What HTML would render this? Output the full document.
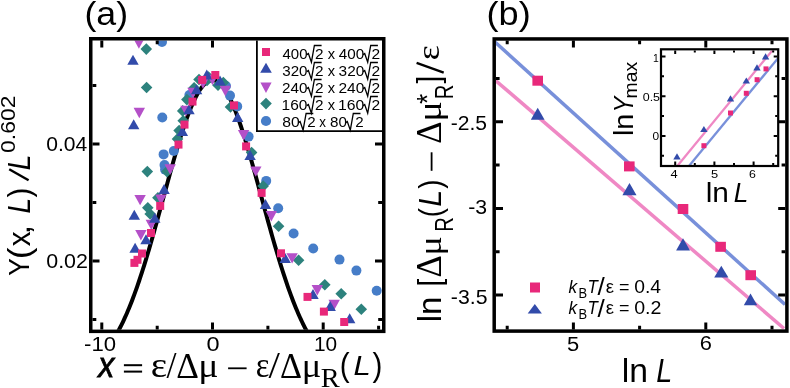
<!DOCTYPE html><html><head><meta charset="utf-8"><style>html,body{margin:0;padding:0;background:#fff;overflow:hidden;}svg{display:block;font-kerning:none;will-change:transform;}</style></head><body>
<svg width="790" height="388" viewBox="0 0 790 388">
<rect width="790" height="388" fill="#fff"/>
<defs><clipPath id="ca"><rect x="92.5" y="40.5" width="289.5" height="289.2"/></clipPath><clipPath id="cb"><rect x="496" y="40.6" width="289.2" height="288.6"/></clipPath><clipPath id="ci"><rect x="662" y="50.4" width="115.3" height="114.8"/></clipPath></defs>
<g clip-path="url(#ca)"><polyline points="100.0,356.61 101.0,355.59 102.0,354.53 103.0,353.43 104.0,352.29 105.0,351.11 106.0,349.88 107.0,348.61 108.0,347.30 109.0,345.94 110.0,344.54 111.0,343.09 112.0,341.59 113.0,340.04 114.0,338.45 115.0,336.80 116.0,335.10 117.0,333.36 118.0,331.55 119.0,329.70 120.0,327.80 121.0,325.84 122.0,323.82 123.0,321.76 124.0,319.63 125.0,317.46 126.0,315.22 127.0,312.94 128.0,310.59 129.0,308.20 130.0,305.74 131.0,303.24 132.0,300.67 133.0,298.05 134.0,295.38 135.0,292.66 136.0,289.88 137.0,287.05 138.0,284.16 139.0,281.23 140.0,278.24 141.0,275.21 142.0,272.13 143.0,269.00 144.0,265.82 145.0,262.60 146.0,259.34 147.0,256.03 148.0,252.69 149.0,249.31 150.0,245.89 151.0,242.44 152.0,238.95 153.0,235.44 154.0,231.89 155.0,228.32 156.0,224.73 157.0,221.12 158.0,217.48 159.0,213.84 160.0,210.18 161.0,206.50 162.0,202.83 163.0,199.14 164.0,195.46 165.0,191.77 166.0,188.10 167.0,184.43 168.0,180.77 169.0,177.12 170.0,173.50 171.0,169.89 172.0,166.31 173.0,162.76 174.0,159.23 175.0,155.75 176.0,152.30 177.0,148.89 178.0,145.53 179.0,142.22 180.0,138.96 181.0,135.75 182.0,132.61 183.0,129.52 184.0,126.51 185.0,123.56 186.0,120.68 187.0,117.89 188.0,115.17 189.0,112.53 190.0,109.97 191.0,107.51 192.0,105.13 193.0,102.85 194.0,100.67 195.0,98.58 196.0,96.60 197.0,94.72 198.0,92.95 199.0,91.28 200.0,89.73 201.0,88.28 202.0,86.95 203.0,85.74 204.0,84.64 205.0,83.67 206.0,82.81 207.0,82.07 208.0,81.45 209.0,80.96 210.0,80.59 211.0,80.34 212.0,80.22 213.0,80.22 214.0,80.34 215.0,80.59 216.0,80.96 217.0,81.45 218.0,82.07 219.0,82.81 220.0,83.67 221.0,84.64 222.0,85.74 223.0,86.95 224.0,88.28 225.0,89.73 226.0,91.28 227.0,92.95 228.0,94.72 229.0,96.60 230.0,98.58 231.0,100.67 232.0,102.85 233.0,105.13 234.0,107.51 235.0,109.97 236.0,112.53 237.0,115.17 238.0,117.89 239.0,120.68 240.0,123.56 241.0,126.51 242.0,129.52 243.0,132.61 244.0,135.75 245.0,138.96 246.0,142.22 247.0,145.53 248.0,148.89 249.0,152.30 250.0,155.75 251.0,159.23 252.0,162.76 253.0,166.31 254.0,169.89 255.0,173.50 256.0,177.12 257.0,180.77 258.0,184.43 259.0,188.10 260.0,191.77 261.0,195.46 262.0,199.14 263.0,202.83 264.0,206.50 265.0,210.18 266.0,213.84 267.0,217.48 268.0,221.12 269.0,224.73 270.0,228.32 271.0,231.89 272.0,235.44 273.0,238.95 274.0,242.44 275.0,245.89 276.0,249.31 277.0,252.69 278.0,256.03 279.0,259.34 280.0,262.60 281.0,265.82 282.0,269.00 283.0,272.13 284.0,275.21 285.0,278.24 286.0,281.23 287.0,284.16 288.0,287.05 289.0,289.88 290.0,292.66 291.0,295.38 292.0,298.05 293.0,300.67 294.0,303.24 295.0,305.74 296.0,308.20 297.0,310.59 298.0,312.94 299.0,315.22 300.0,317.46 301.0,319.63 302.0,321.76 303.0,323.82 304.0,325.84 305.0,327.80 306.0,329.70 307.0,331.55 308.0,333.36 309.0,335.10 310.0,336.80 311.0,338.45 312.0,340.04 313.0,341.59 314.0,343.09 315.0,344.54 316.0,345.94 317.0,347.30 318.0,348.61 319.0,349.88 320.0,351.11 321.0,352.29 322.0,353.43 323.0,354.53 324.0,355.59 325.0,356.61 326.0,357.59 327.0,358.54 328.0,359.45 329.0,360.32 330.0,361.16" fill="none" stroke="#000" stroke-width="4"/>
<circle cx="162.0" cy="42.0" r="5.0" fill="#467DC8"/>
<circle cx="162.3" cy="117.5" r="5.0" fill="#467DC8"/>
<circle cx="163.6" cy="154.4" r="5.0" fill="#467DC8"/>
<circle cx="173.8" cy="151.0" r="5.0" fill="#467DC8"/>
<circle cx="164.5" cy="165.1" r="5.0" fill="#467DC8"/>
<circle cx="165.1" cy="169.6" r="5.0" fill="#467DC8"/>
<circle cx="189.4" cy="95.0" r="5.0" fill="#467DC8"/>
<circle cx="226.0" cy="86.0" r="5.0" fill="#467DC8"/>
<circle cx="230.0" cy="95.6" r="5.0" fill="#467DC8"/>
<circle cx="237.2" cy="106.4" r="5.0" fill="#467DC8"/>
<circle cx="248.6" cy="136.6" r="5.0" fill="#467DC8"/>
<circle cx="266.2" cy="180.9" r="5.0" fill="#467DC8"/>
<circle cx="278.2" cy="208.2" r="5.0" fill="#467DC8"/>
<circle cx="293.6" cy="233.5" r="5.0" fill="#467DC8"/>
<circle cx="313.2" cy="248.5" r="5.0" fill="#467DC8"/>
<circle cx="339.5" cy="259.6" r="5.0" fill="#467DC8"/>
<circle cx="356.4" cy="270.6" r="5.0" fill="#467DC8"/>
<circle cx="376.7" cy="290.7" r="5.0" fill="#467DC8"/>
<polygon points="146.3,43.3 152.1,49.1 146.3,54.9 140.5,49.1" fill="#2D827D"/>
<polygon points="146.6,81.7 152.4,87.5 146.6,93.3 140.8,87.5" fill="#2D827D"/>
<polygon points="147.3,165.8 153.1,171.6 147.3,177.4 141.5,171.6" fill="#2D827D"/>
<polygon points="167.0,165.8 172.8,171.6 167.0,177.4 161.2,171.6" fill="#2D827D"/>
<polygon points="157.9,192.0 163.7,197.8 157.9,203.6 152.1,197.8" fill="#2D827D"/>
<polygon points="147.8,202.0 153.6,207.8 147.8,213.6 142.0,207.8" fill="#2D827D"/>
<polygon points="150.2,208.2 156.0,214.0 150.2,219.8 144.4,214.0" fill="#2D827D"/>
<polygon points="177.5,133.1 183.3,138.9 177.5,144.7 171.7,138.9" fill="#2D827D"/>
<polygon points="179.1,124.8 184.9,130.6 179.1,136.4 173.3,130.6" fill="#2D827D"/>
<polygon points="183.2,115.0 189.0,120.8 183.2,126.6 177.4,120.8" fill="#2D827D"/>
<polygon points="182.7,105.1 188.5,110.9 182.7,116.7 176.9,110.9" fill="#2D827D"/>
<polygon points="186.9,93.8 192.7,99.6 186.9,105.4 181.1,99.6" fill="#2D827D"/>
<polygon points="194.1,81.9 199.9,87.7 194.1,93.5 188.3,87.7" fill="#2D827D"/>
<polygon points="199.0,73.7 204.8,79.5 199.0,85.3 193.2,79.5" fill="#2D827D"/>
<polygon points="208.5,71.2 214.3,77.0 208.5,82.8 202.7,77.0" fill="#2D827D"/>
<polygon points="207.0,74.7 212.8,80.5 207.0,86.3 201.2,80.5" fill="#2D827D"/>
<polygon points="218.0,79.4 223.8,85.2 218.0,91.0 212.2,85.2" fill="#2D827D"/>
<polygon points="223.3,76.8 229.1,82.6 223.3,88.4 217.5,82.6" fill="#2D827D"/>
<polygon points="230.5,101.2 236.3,107.0 230.5,112.8 224.7,107.0" fill="#2D827D"/>
<polygon points="251.6,146.7 257.4,152.5 251.6,158.3 245.8,152.5" fill="#2D827D"/>
<polygon points="263.2,180.2 269.0,186.0 263.2,191.8 257.4,186.0" fill="#2D827D"/>
<polygon points="278.6,220.4 284.4,226.2 278.6,232.0 272.8,226.2" fill="#2D827D"/>
<polygon points="298.6,254.4 304.4,260.2 298.6,266.0 292.8,260.2" fill="#2D827D"/>
<polygon points="324.8,279.0 330.6,284.8 324.8,290.6 319.0,284.8" fill="#2D827D"/>
<polygon points="341.2,288.0 347.0,293.8 341.2,299.6 335.4,293.8" fill="#2D827D"/>
<polygon points="361.3,303.5 367.1,309.3 361.3,315.1 355.5,309.3" fill="#2D827D"/>
<polygon points="133.2,38.3 144.6,38.3 138.9,48.7" fill="#B450C8"/>
<polygon points="133.6,107.8 145.0,107.8 139.3,118.2" fill="#B450C8"/>
<polygon points="134.4,194.9 145.8,194.9 140.1,205.3" fill="#B450C8"/>
<polygon points="155.3,194.5 166.7,194.5 161.0,204.9" fill="#B450C8"/>
<polygon points="145.6,219.7 157.0,219.7 151.3,230.1" fill="#B450C8"/>
<polygon points="135.2,230.1 146.6,230.1 140.9,240.5" fill="#B450C8"/>
<polygon points="164.5,164.3 175.9,164.3 170.2,174.7" fill="#B450C8"/>
<polygon points="187.3,87.8 198.7,87.8 193.0,98.2" fill="#B450C8"/>
<polygon points="180.3,105.8 191.7,105.8 186.0,116.2" fill="#B450C8"/>
<polygon points="206.8,74.8 218.2,74.8 212.5,85.2" fill="#B450C8"/>
<polygon points="197.3,78.3 208.7,78.3 203.0,88.7" fill="#B450C8"/>
<polygon points="219.6,85.8 231.0,85.8 225.3,96.2" fill="#B450C8"/>
<polygon points="237.9,130.0 249.3,130.0 243.6,140.4" fill="#B450C8"/>
<polygon points="250.1,166.4 261.5,166.4 255.8,176.8" fill="#B450C8"/>
<polygon points="265.6,211.0 277.0,211.0 271.3,221.4" fill="#B450C8"/>
<polygon points="286.4,253.2 297.8,253.2 292.1,263.6" fill="#B450C8"/>
<polygon points="311.6,285.0 323.0,285.0 317.3,295.4" fill="#B450C8"/>
<polygon points="328.5,299.7 339.9,299.7 334.2,310.1" fill="#B450C8"/>
<polygon points="206.8,69.6 212.5,79.6 201.1,79.6" fill="#324BAA"/>
<polygon points="220.0,75.5 225.7,85.5 214.3,85.5" fill="#324BAA"/>
<polygon points="196.6,84.3 202.3,94.3 190.9,94.3" fill="#324BAA"/>
<polygon points="189.0,104.3 194.7,114.3 183.3,114.3" fill="#324BAA"/>
<polygon points="182.4,126.0 188.1,136.0 176.7,136.0" fill="#324BAA"/>
<polygon points="164.1,183.9 169.8,193.9 158.4,193.9" fill="#324BAA"/>
<polygon points="134.3,209.8 140.0,219.8 128.6,219.8" fill="#324BAA"/>
<polygon points="154.8,212.8 160.5,222.8 149.1,222.8" fill="#324BAA"/>
<polygon points="146.0,234.3 151.7,244.3 140.3,244.3" fill="#324BAA"/>
<polygon points="135.1,242.8 140.8,252.8 129.4,252.8" fill="#324BAA"/>
<polygon points="133.0,54.7 138.7,64.7 127.3,64.7" fill="#324BAA"/>
<polygon points="133.7,119.2 139.4,129.2 128.0,129.2" fill="#324BAA"/>
<polygon points="237.7,112.0 243.4,122.0 232.0,122.0" fill="#324BAA"/>
<polygon points="250.1,149.9 255.8,159.9 244.4,159.9" fill="#324BAA"/>
<polygon points="265.5,199.0 271.2,209.0 259.8,209.0" fill="#324BAA"/>
<polygon points="285.2,253.0 290.9,263.0 279.5,263.0" fill="#324BAA"/>
<polygon points="313.0,288.9 318.7,298.9 307.3,298.9" fill="#324BAA"/>
<polygon points="330.2,301.0 335.9,311.0 324.5,311.0" fill="#324BAA"/>
<polygon points="349.7,313.3 355.4,323.3 344.0,323.3" fill="#324BAA"/>
<rect x="211.3" y="71.0" width="8" height="8" fill="#E8287A"/>
<rect x="198.2" y="75.9" width="8" height="8" fill="#E8287A"/>
<rect x="188.5" y="97.6" width="8" height="8" fill="#E8287A"/>
<rect x="180.5" y="120.6" width="8" height="8" fill="#E8287A"/>
<rect x="174.5" y="140.6" width="8" height="8" fill="#E8287A"/>
<rect x="156.2" y="201.9" width="8" height="8" fill="#E8287A"/>
<rect x="147.0" y="229.0" width="8" height="8" fill="#E8287A"/>
<rect x="138.0" y="249.5" width="8" height="8" fill="#E8287A"/>
<rect x="133.5" y="255.8" width="8" height="8" fill="#E8287A"/>
<rect x="130.4" y="258.9" width="8" height="8" fill="#E8287A"/>
<rect x="230.0" y="101.4" width="8" height="8" fill="#E8287A"/>
<rect x="242.1" y="142.4" width="8" height="8" fill="#E8287A"/>
<rect x="257.6" y="188.9" width="8" height="8" fill="#E8287A"/>
<rect x="277.0" y="249.3" width="8" height="8" fill="#E8287A"/>
<rect x="303.5" y="292.9" width="8" height="8" fill="#E8287A"/>
<rect x="319.9" y="307.6" width="8" height="8" fill="#E8287A"/>
<rect x="340.2" y="318.0" width="8" height="8" fill="#E8287A"/>
</g>
<path d="M101.8,329.6 v-7 M101.8,40.5 v7 M157.2,329.6 v-3.8 M157.2,40.5 v3.8 M212.5,329.6 v-7 M212.5,40.5 v7 M267.9,329.6 v-3.8 M267.9,40.5 v3.8 M323.2,329.6 v-7 M323.2,40.5 v7 M378.6,329.6 v-3.8 M378.6,40.5 v3.8 M92.5,319.5 h3.8 M382,319.5 h-3.8 M92.5,261.0 h7 M382,261.0 h-7 M92.5,202.5 h3.8 M382,202.5 h-3.8 M92.5,144.0 h7 M382,144.0 h-7 M92.5,85.5 h3.8 M382,85.5 h-3.8" stroke="#000" stroke-width="3" fill="none"/>
<rect x="256.9" y="39" width="127" height="92.2" fill="#fff"/>
<path d="M256.9,40.5 V131.2 H382" fill="none" stroke="#000" stroke-width="1.8"/>
<rect x="90.75" y="38.75" width="293" height="292.6" fill="none" stroke="#000" stroke-width="3.5"/>
<rect x="262.0" y="48.0" width="8" height="8" fill="#E8287A"/>
<polygon points="266.0,62.8 271.8,72.8 260.2,72.8" fill="#324BAA"/>
<polygon points="260.4,82.5 271.6,82.5 266.0,93.0" fill="#B450C8"/>
<polygon points="266.0,97.8 271.8,103.6 266.0,109.4 260.2,103.6" fill="#2D827D"/>
<circle cx="266.0" cy="121.0" r="5.1" fill="#467DC8"/>
<text transform="translate(282.46,58.80) scale(1.0275,1)" font-family="Liberation Sans" font-size="14.6" fill="#000">400</text>
<path d="M306.8,54.6 L308.4,53.6 L311.4,62.2 L314.4,45.5 H321.6" fill="none" stroke="#000" stroke-width="1.3" stroke-linejoin="miter"/>
<text transform="translate(314.93,58.80) scale(1.0524,1)" font-family="Liberation Sans" font-size="14.6" fill="#000">2</text>
<text transform="translate(327.64,58.80) scale(1.0030,1)" font-family="Liberation Sans" font-size="14.6" fill="#000">x</text>
<text transform="translate(338.85,58.80) scale(1.0446,1)" font-family="Liberation Sans" font-size="14.6" fill="#000">400</text>
<path d="M363.1,54.6 L364.7,53.6 L367.7,62.2 L370.7,45.5 H377.9" fill="none" stroke="#000" stroke-width="1.3" stroke-linejoin="miter"/>
<text transform="translate(371.42,58.80) scale(1.0675,1)" font-family="Liberation Sans" font-size="14.6" fill="#000">2</text>
<text transform="translate(282.22,75.80) scale(1.0373,1)" font-family="Liberation Sans" font-size="14.6" fill="#000">320</text>
<path d="M306.8,71.6 L308.4,70.6 L311.4,79.2 L314.4,62.5 H321.6" fill="none" stroke="#000" stroke-width="1.3" stroke-linejoin="miter"/>
<text transform="translate(314.93,75.80) scale(1.0524,1)" font-family="Liberation Sans" font-size="14.6" fill="#000">2</text>
<text transform="translate(327.64,75.80) scale(1.0030,1)" font-family="Liberation Sans" font-size="14.6" fill="#000">x</text>
<text transform="translate(338.61,75.80) scale(1.0545,1)" font-family="Liberation Sans" font-size="14.6" fill="#000">320</text>
<path d="M363.1,71.6 L364.7,70.6 L367.7,79.2 L370.7,62.5 H377.9" fill="none" stroke="#000" stroke-width="1.3" stroke-linejoin="miter"/>
<text transform="translate(371.42,75.80) scale(1.0675,1)" font-family="Liberation Sans" font-size="14.6" fill="#000">2</text>
<text transform="translate(282.03,92.80) scale(1.0453,1)" font-family="Liberation Sans" font-size="14.6" fill="#000">240</text>
<path d="M306.8,88.6 L308.4,87.6 L311.4,96.2 L314.4,79.5 H321.6" fill="none" stroke="#000" stroke-width="1.3" stroke-linejoin="miter"/>
<text transform="translate(314.93,92.80) scale(1.0524,1)" font-family="Liberation Sans" font-size="14.6" fill="#000">2</text>
<text transform="translate(327.64,92.80) scale(1.0030,1)" font-family="Liberation Sans" font-size="14.6" fill="#000">x</text>
<text transform="translate(338.42,92.80) scale(1.0627,1)" font-family="Liberation Sans" font-size="14.6" fill="#000">240</text>
<path d="M363.1,88.6 L364.7,87.6 L367.7,96.2 L370.7,79.5 H377.9" fill="none" stroke="#000" stroke-width="1.3" stroke-linejoin="miter"/>
<text transform="translate(371.42,92.80) scale(1.0675,1)" font-family="Liberation Sans" font-size="14.6" fill="#000">2</text>
<text transform="translate(281.62,109.80) scale(1.0627,1)" font-family="Liberation Sans" font-size="14.6" fill="#000">160</text>
<path d="M306.8,105.6 L308.4,104.6 L311.4,113.2 L314.4,96.5 H321.6" fill="none" stroke="#000" stroke-width="1.3" stroke-linejoin="miter"/>
<text transform="translate(314.93,109.80) scale(1.0524,1)" font-family="Liberation Sans" font-size="14.6" fill="#000">2</text>
<text transform="translate(327.64,109.80) scale(1.0030,1)" font-family="Liberation Sans" font-size="14.6" fill="#000">x</text>
<text transform="translate(338.00,109.80) scale(1.0804,1)" font-family="Liberation Sans" font-size="14.6" fill="#000">160</text>
<path d="M363.1,105.6 L364.7,104.6 L367.7,113.2 L370.7,96.5 H377.9" fill="none" stroke="#000" stroke-width="1.3" stroke-linejoin="miter"/>
<text transform="translate(371.42,109.80) scale(1.0675,1)" font-family="Liberation Sans" font-size="14.6" fill="#000">2</text>
<text transform="translate(282.22,126.80) scale(1.0775,1)" font-family="Liberation Sans" font-size="14.6" fill="#000">80</text>
<path d="M298.5,122.6 L300.1,121.6 L303.1,130.2 L306.1,113.5 H313.3" fill="none" stroke="#000" stroke-width="1.3" stroke-linejoin="miter"/>
<text transform="translate(307.14,126.80) scale(1.0374,1)" font-family="Liberation Sans" font-size="14.6" fill="#000">2</text>
<text transform="translate(319.35,126.80) scale(0.9170,1)" font-family="Liberation Sans" font-size="14.6" fill="#000">x</text>
<text transform="translate(330.04,126.80) scale(1.0376,1)" font-family="Liberation Sans" font-size="14.6" fill="#000">80</text>
<path d="M345.7,122.6 L347.3,121.6 L350.3,130.2 L353.3,113.5 H360.5" fill="none" stroke="#000" stroke-width="1.3" stroke-linejoin="miter"/>
<text transform="translate(355.34,126.80) scale(1.0374,1)" font-family="Liberation Sans" font-size="14.6" fill="#000">2</text>
<text transform="translate(46.28,151.40) scale(1.0041,1)" font-family="Liberation Sans" font-size="21" fill="#000">0.04</text>
<text transform="translate(46.26,267.50) scale(1.0206,1)" font-family="Liberation Sans" font-size="21" fill="#000">0.02</text>
<text transform="translate(84.01,350.60) scale(1.0560,1)" font-family="Liberation Sans" font-size="21" fill="#000">-10</text>
<text transform="translate(206.46,350.60) scale(1.1200,1)" font-family="Liberation Sans" font-size="21" fill="#000">0</text>
<text transform="translate(314.01,350.60) scale(0.9934,1)" font-family="Liberation Sans" font-size="21" fill="#000">10</text>
<text transform="translate(84.49,25.00) scale(1.0499,1)" font-family="Liberation Sans" font-size="34" fill="#000">(a)</text>
<g transform="rotate(-90)">
<text transform="translate(-275.83,28.90) scale(0.8800,1)" font-family="Liberation Sans" font-size="30.09" fill="#000">Y</text>
</g>
<g transform="rotate(-90)">
<text transform="translate(-258.89,29.79) scale(1.1200,1)" font-family="Liberation Sans" font-size="30.48" fill="#000">(</text>
</g>
<g transform="rotate(-90)">
<text transform="translate(-246.33,29.70) scale(0.9689,1)" font-family="Liberation Sans" font-size="30.66" fill="#000">x</text>
</g>
<g transform="rotate(-90)">
<text transform="translate(-234.57,30.28) scale(1.1200,1)" font-family="Liberation Sans" font-size="30.66" fill="#000">,</text>
</g>
<g transform="rotate(-90)">
<text transform="translate(-213.57,29.70) scale(0.9146,1)" font-family="Liberation Sans" font-size="30.96" font-style="italic" fill="#000">L</text>
</g>
<g transform="rotate(-90)">
<text transform="translate(-197.47,29.79) scale(0.9652,1)" font-family="Liberation Sans" font-size="30.48" fill="#000">)</text>
</g>
<line x1="28.6" y1="180.3" x2="9.2" y2="169.3" stroke="#000" stroke-width="2.4"/>
<g transform="rotate(-90)">
<text transform="translate(-170.27,29.70) scale(0.9146,1)" font-family="Liberation Sans" font-size="30.96" font-style="italic" fill="#000">L</text>
</g>
<g transform="rotate(-90)">
<text transform="translate(-152.92,15.30) scale(1.1200,1)" font-family="Liberation Sans" font-size="20.48" fill="#000">0.602</text>
</g>
<text transform="translate(98.29,376.80) scale(0.9080,1)" font-family="Liberation Sans" font-size="35.4" font-style="italic" stroke="#000" stroke-width="0.8" fill="#000">x</text>
<rect x="123.9" y="364.2" width="18.2" height="2" fill="#000"/><rect x="123.9" y="370.6" width="18.2" height="2" fill="#000"/>
<text transform="translate(150.70,377.45) scale(1.0867,1)" font-family="Liberation Serif" font-size="35.76" fill="#000">ε</text>
<text transform="translate(166.60,377.84) scale(0.9670,1)" font-family="Liberation Serif" font-size="37.22" fill="#000">/</text>
<text transform="translate(176.36,377.70) scale(0.9778,1)" font-family="Liberation Serif" font-size="36.05" fill="#000">Δ</text>
<text transform="translate(198.16,377.08) scale(1.1200,1)" font-family="Liberation Serif" font-size="33.74" fill="#000">μ</text>
<text transform="translate(255.85,377.45) scale(0.9043,1)" font-family="Liberation Serif" font-size="35.76" fill="#000">ε</text>
<text transform="translate(268.50,377.84) scale(1.1024,1)" font-family="Liberation Serif" font-size="37.22" fill="#000">/</text>
<text transform="translate(280.10,377.70) scale(0.9485,1)" font-family="Liberation Serif" font-size="36.05" fill="#000">Δ</text>
<text transform="translate(301.64,377.08) scale(1.0809,1)" font-family="Liberation Serif" font-size="33.74" fill="#000">μ</text>
<rect x="228.1" y="367.4" width="18.5" height="1.8" fill="#000"/>
<text transform="translate(320.78,386.80) scale(1.0285,1)" font-family="Liberation Serif" font-size="27.64" fill="#000">R</text>
<text transform="translate(339.63,376.02) scale(0.8800,1)" font-family="Liberation Sans" font-size="33.7" fill="#000">(</text>
<text transform="translate(353.50,375.40) scale(1.1200,1)" font-family="Liberation Sans" font-size="27.62" font-style="italic" fill="#000">L</text>
<text transform="translate(372.59,376.02) scale(0.8800,1)" font-family="Liberation Sans" font-size="33.7" fill="#000">)</text>
<g clip-path="url(#cb)">
<line x1="495" y1="42" x2="785" y2="304.5" stroke="#7890DA" stroke-width="3.5"/>
<line x1="495" y1="80" x2="784" y2="328.5" stroke="#EF88C4" stroke-width="3.5"/>
<polygon points="537.7,107.8 544.6,119.8 530.8,119.8" fill="#324BAA"/>
<polygon points="629.5,183.1 636.5,195.3 622.4,195.3" fill="#324BAA"/>
<polygon points="683.0,238.3 690.0,250.4 676.1,250.4" fill="#324BAA"/>
<polygon points="721.3,265.8 728.4,277.4 714.2,277.4" fill="#324BAA"/>
<polygon points="750.5,293.6 757.2,305.2 743.8,305.2" fill="#324BAA"/>
<rect x="532.4" y="75.7" width="10.6" height="10" fill="#E8287A"/>
<rect x="624.0" y="161.4" width="10.6" height="10" fill="#E8287A"/>
<rect x="677.7" y="204.0" width="10.6" height="10" fill="#E8287A"/>
<rect x="715.3" y="241.8" width="10.6" height="10" fill="#E8287A"/>
<rect x="745.4" y="270.2" width="10.6" height="10" fill="#E8287A"/>
</g>
<rect x="494.2" y="38.95" width="292.7" height="292.15" fill="none" stroke="#000" stroke-width="3.5"/>
<path d="M507.2,329.4 v-3.6 M507.2,40.6 v3.6 M573.4,329.4 v-7 M573.4,40.6 v7 M639.6,329.4 v-3.6 M639.6,40.6 v3.6 M705.8,329.4 v-7 M705.8,40.6 v7 M772.0,329.4 v-3.6 M772.0,40.6 v3.6 M496,78.4 h3.6 M785.2,78.4 h-3.6 M496,121.8 h7 M785.2,121.8 h-7 M496,165.1 h3.6 M785.2,165.1 h-3.6 M496,208.4 h7 M785.2,208.4 h-7 M496,251.7 h3.6 M785.2,251.7 h-3.6 M496,295.1 h7 M785.2,295.1 h-7" stroke="#000" stroke-width="3" fill="none"/>
<text transform="translate(450.76,130.10) scale(1.0038,1)" font-family="Liberation Sans" font-size="21" fill="#000">-2.5</text>
<text transform="translate(468.26,214.20) scale(1.0109,1)" font-family="Liberation Sans" font-size="21" fill="#000">-3</text>
<text transform="translate(450.86,303.70) scale(1.0125,1)" font-family="Liberation Sans" font-size="21" fill="#000">-3.5</text>
<text transform="translate(567.12,351.00) scale(1.0445,1)" font-family="Liberation Sans" font-size="21" fill="#000">5</text>
<text transform="translate(699.69,350.40) scale(1.0423,1)" font-family="Liberation Sans" font-size="21" fill="#000">6</text>
<text transform="translate(486.56,25.00) scale(1.0633,1)" font-family="Liberation Sans" font-size="34" fill="#000">(b)</text>
<text transform="translate(621.73,382.30) scale(1.0189,1)" font-family="Liberation Sans" font-size="33.12" fill="#000">ln</text>
<text transform="translate(656.31,382.30) scale(0.8800,1)" font-family="Liberation Sans" font-size="32.7" font-style="italic" fill="#000">L</text>
<g transform="rotate(-90)">
<text transform="translate(-322.32,440.70) scale(0.9955,1)" font-family="Liberation Sans" font-size="33.12" fill="#000">ln</text>
</g>
<g transform="rotate(-90)">
<text transform="translate(-286.51,439.55) scale(0.8934,1)" font-family="Liberation Sans" font-size="31.54" fill="#000">[</text>
</g>
<g transform="rotate(-90)">
<text transform="translate(-277.62,440.90) scale(0.9622,1)" font-family="Liberation Serif" font-size="35.9" fill="#000">Δ</text>
</g>
<g transform="rotate(-90)">
<text transform="translate(-255.51,440.93) scale(1.1200,1)" font-family="Liberation Serif" font-size="32.1" fill="#000">μ</text>
</g>
<g transform="rotate(-90)">
<text transform="translate(-231.76,452.50) scale(0.7641,1)" font-family="Liberation Sans" font-size="26.45" fill="#000">R</text>
</g>
<g transform="rotate(-90)">
<text transform="translate(-217.13,440.76) scale(0.8800,1)" font-family="Liberation Sans" font-size="31.13" fill="#000">(</text>
</g>
<g transform="rotate(-90)">
<text transform="translate(-206.64,441.00) scale(0.9717,1)" font-family="Liberation Sans" font-size="31.4" font-style="italic" fill="#000">L</text>
</g>
<g transform="rotate(-90)">
<text transform="translate(-188.64,440.76) scale(0.8800,1)" font-family="Liberation Sans" font-size="31.13" fill="#000">)</text>
</g>
<rect x="430.7" y="152.3" width="1.8" height="18.5" fill="#000"/>
<g transform="rotate(-90)">
<text transform="translate(-143.63,440.60) scale(0.9844,1)" font-family="Liberation Serif" font-size="35.45" fill="#000">Δ</text>
</g>
<g transform="rotate(-90)">
<text transform="translate(-121.39,440.62) scale(1.1200,1)" font-family="Liberation Serif" font-size="33.59" fill="#000">μ</text>
</g>
<g transform="rotate(-90)">
<text transform="translate(-103.92,436.98) scale(0.8879,1)" font-family="Liberation Sans" font-size="29.62" fill="#000">*</text>
</g>
<g transform="rotate(-90)">
<text transform="translate(-99.36,452.50) scale(0.7641,1)" font-family="Liberation Sans" font-size="26.45" fill="#000">R</text>
</g>
<g transform="rotate(-90)">
<text transform="translate(-83.62,439.00) scale(0.8834,1)" font-family="Liberation Sans" font-size="31.33" fill="#000">]</text>
</g>
<line x1="443.7" y1="72.6" x2="416.6" y2="62.8" stroke="#000" stroke-width="2.3"/>
<g transform="rotate(-90)">
<text transform="translate(-60.25,439.39) scale(1.1200,1)" font-family="Liberation Serif" font-size="31.81" fill="#000">ε</text>
</g>
<rect x="530.0" y="282.5" width="10" height="10" fill="#E8287A"/>
<polygon points="534.8,304.1 541.9,313.6 527.7,313.6" fill="#324BAA"/>
<text transform="translate(568.51,292.70) scale(0.9506,1)" font-family="Liberation Sans" font-size="18.22" font-style="italic" fill="#000">k</text>
<text transform="translate(578.45,297.60) scale(0.8800,1)" font-family="Liberation Sans" font-size="14.68" fill="#000">B</text>
<text transform="translate(587.48,292.70) scale(0.9010,1)" font-family="Liberation Sans" font-size="18.75" font-style="italic" fill="#000">T</text>
<text transform="translate(597.58,295.27) scale(1.1200,1)" font-family="Liberation Sans" font-size="23.29" fill="#000">/</text>
<text transform="translate(605.76,292.92) scale(1.0084,1)" font-family="Liberation Sans" font-size="18.44" fill="#000">ε</text>
<text transform="translate(619.03,292.70) scale(0.9680,1)" font-family="Liberation Sans" font-size="18.5" fill="#000">=</text>
<text transform="translate(634.25,292.82) scale(1.0670,1)" font-family="Liberation Sans" font-size="18.08" fill="#000">0.4</text>
<text transform="translate(568.51,314.20) scale(0.9506,1)" font-family="Liberation Sans" font-size="18.22" font-style="italic" fill="#000">k</text>
<text transform="translate(578.45,319.10) scale(0.8800,1)" font-family="Liberation Sans" font-size="14.68" fill="#000">B</text>
<text transform="translate(587.48,314.20) scale(0.9010,1)" font-family="Liberation Sans" font-size="18.75" font-style="italic" fill="#000">T</text>
<text transform="translate(597.58,316.77) scale(1.1200,1)" font-family="Liberation Sans" font-size="23.29" fill="#000">/</text>
<text transform="translate(605.76,314.42) scale(1.0084,1)" font-family="Liberation Sans" font-size="18.44" fill="#000">ε</text>
<text transform="translate(619.03,314.20) scale(0.9680,1)" font-family="Liberation Sans" font-size="18.5" fill="#000">=</text>
<text transform="translate(634.23,314.32) scale(1.0843,1)" font-family="Liberation Sans" font-size="18.08" fill="#000">0.2</text>
<rect x="662" y="50.4" width="115.3" height="114.8" fill="#fff"/>
<g clip-path="url(#ci)">
<line x1="677.3" y1="166" x2="773.5" y2="49" stroke="#EF88C4" stroke-width="2.3"/>
<line x1="689" y1="166" x2="779" y2="57" stroke="#7890DA" stroke-width="2.3"/>
<polygon points="677.0,153.2 680.7,159.4 673.3,159.4" fill="#324BAA"/>
<polygon points="703.9,125.9 707.6,132.1 700.2,132.1" fill="#324BAA"/>
<polygon points="730.5,95.2 734.2,101.4 726.8,101.4" fill="#324BAA"/>
<polygon points="746.3,77.4 750.0,83.6 742.6,83.6" fill="#324BAA"/>
<polygon points="757.0,64.2 760.7,70.4 753.3,70.4" fill="#324BAA"/>
<polygon points="765.6,53.3 769.3,59.5 761.9,59.5" fill="#324BAA"/>
<rect x="701.4" y="143.2" width="5.0" height="5.0" fill="#E8287A"/>
<rect x="728.0" y="110.5" width="5.0" height="5.0" fill="#E8287A"/>
<rect x="743.8" y="90.8" width="5.0" height="5.0" fill="#E8287A"/>
<rect x="754.6" y="77.2" width="5.0" height="5.0" fill="#E8287A"/>
<rect x="763.5" y="66.4" width="5.0" height="5.0" fill="#E8287A"/>
</g>
<rect x="661" y="49.3" width="117.2" height="116.7" fill="none" stroke="#000" stroke-width="2.2"/>
<path d="M675.2,165 v-3.5 M675.2,50.4 v3.5 M694.8,165 v-2 M694.8,50.4 v2 M714.4,165 v-3.5 M714.4,50.4 v3.5 M734.0,165 v-2 M734.0,50.4 v2 M753.6,165 v-3.5 M753.6,50.4 v3.5 M773.2,165 v-2 M773.2,50.4 v2 M662,56.5 h3.5 M777.2,56.5 h-3.5 M662,76.3 h2 M777.2,76.3 h-2 M662,96.2 h3.5 M777.2,96.2 h-3.5 M662,116.1 h2 M777.2,116.1 h-2 M662,135.9 h3.5 M777.2,135.9 h-3.5 M662,155.8 h2 M777.2,155.8 h-2" stroke="#000" stroke-width="2" fill="none"/>
<text transform="translate(653.00,61.60) scale(0.9076,1)" font-family="Liberation Sans" font-size="11.5" fill="#000">1</text>
<text transform="translate(642.71,100.60) scale(1.0827,1)" font-family="Liberation Sans" font-size="11.5" fill="#000">0.5</text>
<text transform="translate(652.53,139.60) scale(1.0369,1)" font-family="Liberation Sans" font-size="11.5" fill="#000">0</text>
<text transform="translate(670.46,178.00) scale(1.1200,1)" font-family="Liberation Sans" font-size="11.5" fill="#000">4</text>
<text transform="translate(710.88,178.00) scale(1.1200,1)" font-family="Liberation Sans" font-size="11.5" fill="#000">5</text>
<text transform="translate(749.07,178.00) scale(1.0742,1)" font-family="Liberation Sans" font-size="11.5" fill="#000">6</text>
<text transform="translate(705.69,201.80) scale(1.1065,1)" font-family="Liberation Sans" font-size="27" fill="#000">ln</text>
<text transform="translate(733.70,201.80) scale(0.9675,1)" font-family="Liberation Sans" font-size="27" font-style="italic" fill="#000">L</text>
<g transform="translate(633.30,0) rotate(-90)">
<text transform="translate(-136.04,0.00) scale(1.0664,1)" font-family="Liberation Sans" font-size="27" fill="#000">ln</text>
</g>
<g transform="translate(633.30,0) rotate(-90)">
<text transform="translate(-112.57,0.00) scale(0.8800,1)" font-family="Liberation Sans" font-size="27" font-style="italic" fill="#000">Y</text>
</g>
<g transform="translate(637.10,0) rotate(-90)">
<text transform="translate(-98.39,0.00) scale(1.0471,1)" font-family="Liberation Sans" font-size="18.5" fill="#000">max</text>
</g>
</svg></body></html>
